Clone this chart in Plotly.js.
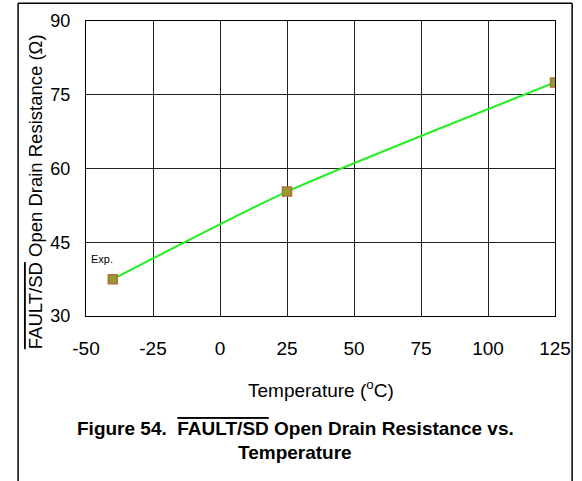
<!DOCTYPE html>
<html>
<head>
<meta charset="utf-8">
<script src="https://cdn.plot.ly/plotly-3.0.1.min.js"></script>
<style>html,body{margin:0;padding:0;background:#fff;}#chart{width:582px;height:481px;}</style>
</head>
<body>
<div id="chart"></div>
<script>
const temperatures = [-40, 25, 125];
const resistances = [37.5, 55.3, 77.5];
const xTicks = [-50, -25, 0, 25, 50, 75, 100, 125];
const yTicks = [30, 45, 60, 75, 90];
const seriesLabel = "Exp.";
const xTitle = "Temperature (<sup>o</sup>C)";
const yTitle = "<span style='text-decoration:overline'>FAULT/SD</span> Open Drain Resistance (Ω)";
const caption1 = "Figure 54.  <span style='text-decoration:overline'>FAULT/SD</span> Open Drain Resistance vs.";
const caption2 = "Temperature";

const fontFam = "Liberation Sans, Arial, sans-serif";

const traces = [
  {
    x: temperatures, y: resistances, type: 'scatter', mode: 'lines',
    line: {color: '#22ee22', width: 2, shape: 'spline', smoothing: 0.6},
    hoverinfo: 'skip', showlegend: false
  },
  {
    x: temperatures, y: resistances, type: 'scatter', mode: 'markers',
    marker: {symbol: 'square', size: 9, color: '#999933', line: {color: '#b0703a', width: 1.5}},
    showlegend: false
  }
];

const layout = {
  width: 582, height: 481,
  margin: {l: 86, r: 26.5, t: 21, b: 164.7},
  paper_bgcolor: '#fff', plot_bgcolor: '#fff',
  font: {family: fontFam, color: '#000', size: 17},
  xaxis: {
    range: [-50, 125], tickvals: xTicks, ticktext: xTicks.map(String),
    showgrid: true, gridcolor: '#222', gridwidth: 1,
    zeroline: false, showline: true, linecolor: '#000', linewidth: 1, mirror: true,
    ticks: '', tickfont: {size: 19, family: fontFam}, ticklabelstandoff: 15
  },
  yaxis: {
    range: [30, 90], tickvals: yTicks, ticktext: yTicks.map(String),
    showgrid: true, gridcolor: '#222', gridwidth: 1,
    zeroline: false, showline: true, linecolor: '#000', linewidth: 1, mirror: true,
    ticks: '', tickfont: {size: 18, family: fontFam}, ticklabelstandoff: 11
  },
  shapes: [
    {type: 'line', xref: 'paper', yref: 'paper', x0: -0.1448, x1: -0.1448, y0: 1.06, y1: -0.7, line: {color: '#000', width: 1.5}},
    {type: 'line', xref: 'paper', yref: 'paper', x0: 1.0365, x1: 1.0365, y0: 1.06, y1: -0.7, line: {color: '#000', width: 1.5}},
    {type: 'line', xref: 'paper', yref: 'paper', x0: -0.1448, x1: 1.0365, y0: 1.06, y1: 1.06, line: {color: '#000', width: 1.5}}
  ],
  annotations: [
    {x: -44, y: 41.5, xref: 'x', yref: 'y', xanchor: 'center', yanchor: 'middle', text: seriesLabel, showarrow: false, font: {size: 11, family: fontFam}},
    {x: -0.1086, y: 0.42, xref: 'paper', yref: 'paper', xanchor: 'center', yanchor: 'middle', text: yTitle, textangle: -90, showarrow: false, font: {size: 18.5, family: fontFam}},
    {x: 0.5016, y: -0.249, xref: 'paper', yref: 'paper', xanchor: 'center', yanchor: 'middle', text: xTitle, showarrow: false, font: {size: 19, family: fontFam}},
    {x: 0.446, y: -0.38, xref: 'paper', yref: 'paper', xanchor: 'center', yanchor: 'middle', text: '<b>' + caption1 + '</b>', showarrow: false, font: {size: 19, family: fontFam}},
    {x: 0.446, y: -0.464, xref: 'paper', yref: 'paper', xanchor: 'center', yanchor: 'middle', text: '<b>' + caption2 + '</b>', showarrow: false, font: {size: 19, family: fontFam}}
  ]
};

Plotly.newPlot('chart', traces, layout, {displayModeBar: false, staticPlot: true});
</script>
</body>
</html>
